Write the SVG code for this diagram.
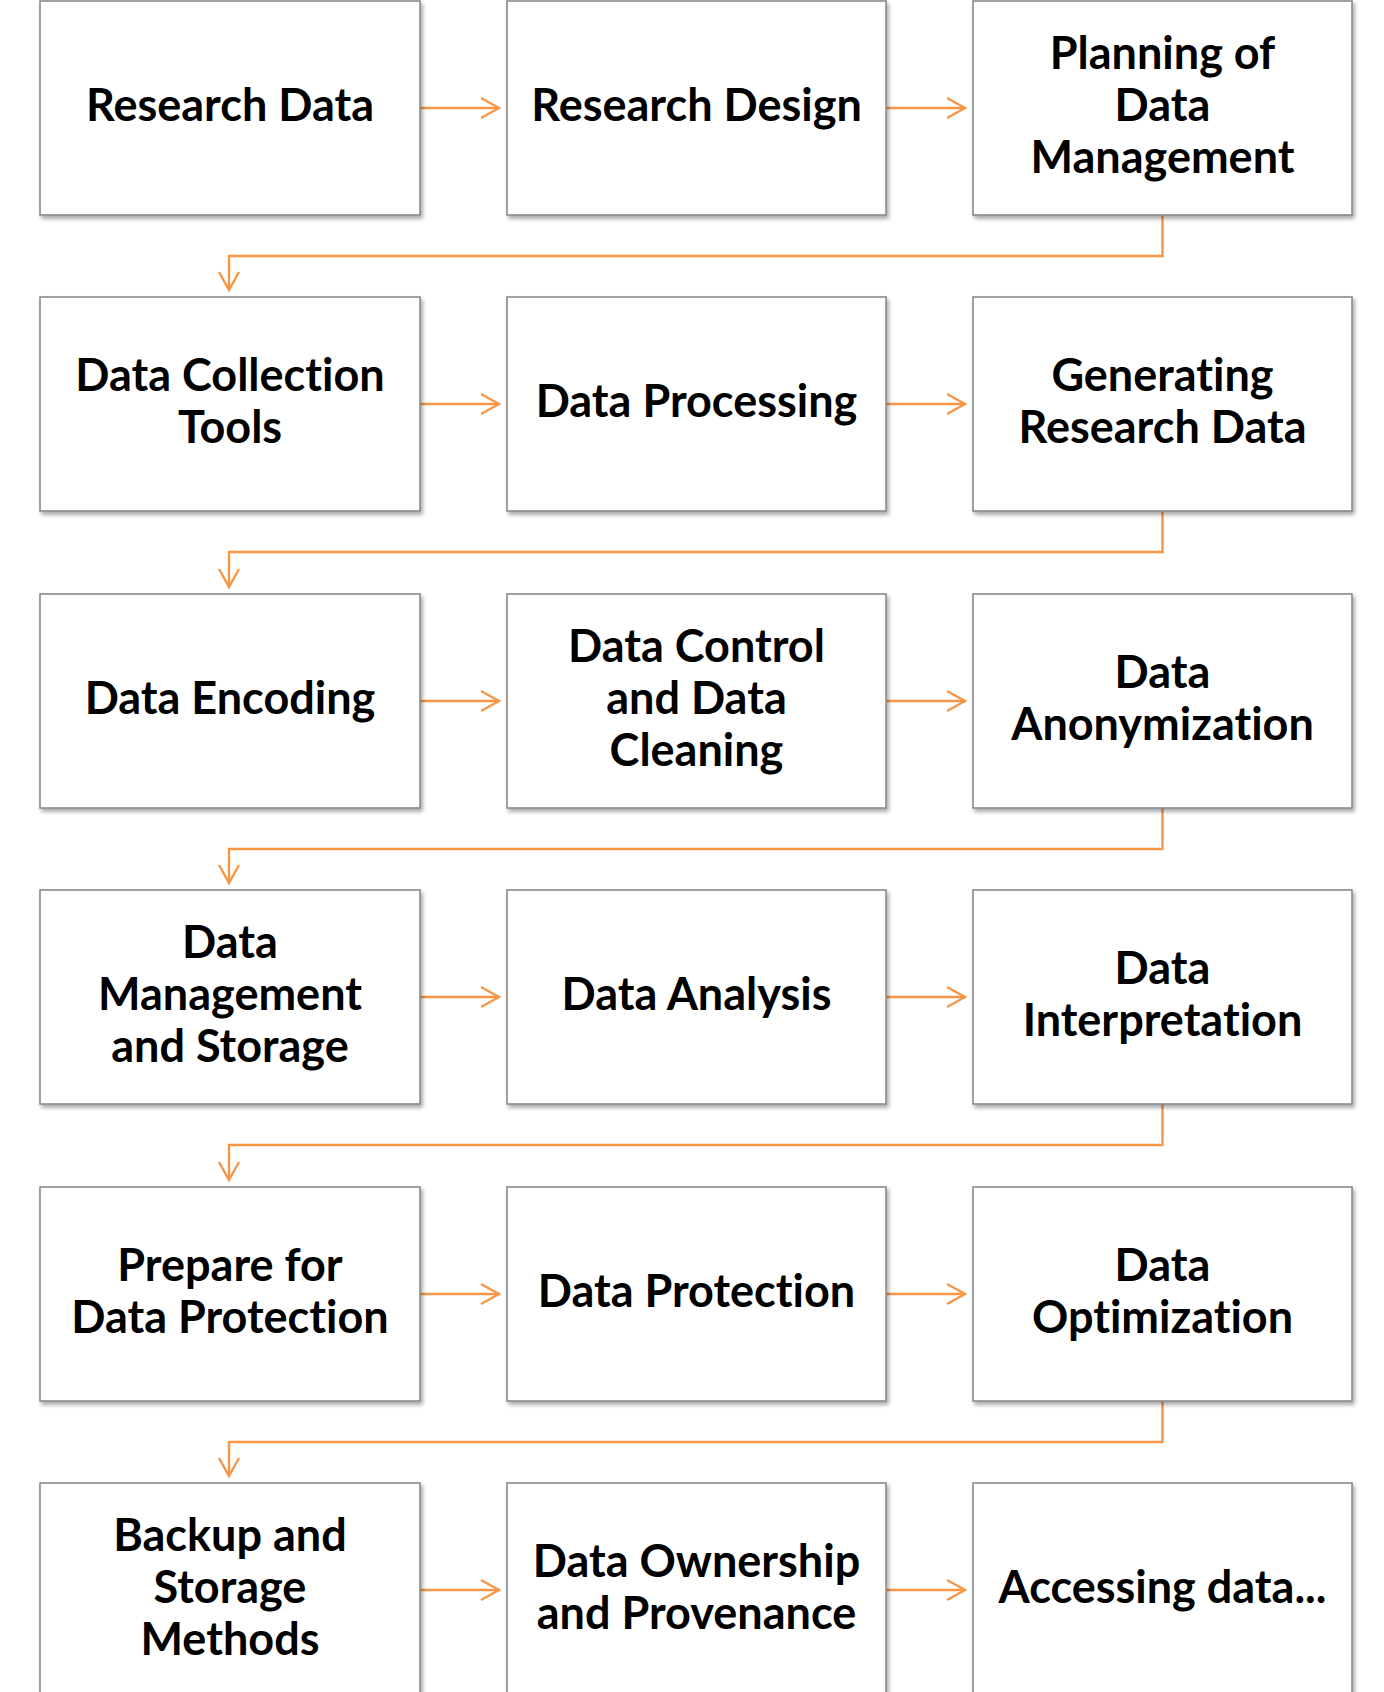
<svg xmlns="http://www.w3.org/2000/svg" width="1384" height="1692" viewBox="0 0 1384 1692">
<style>
.box{fill:#ffffff;stroke:#8a8a8a;stroke-width:1.6;filter:url(#sh)}
.lbl{font-family:Lato,"Liberation Sans",sans-serif;font-weight:700;font-size:45px;fill:#000;text-anchor:middle;font-variant-ligatures:none}
.con{fill:none;stroke:#F79646;stroke-width:2.4;marker-end:url(#ah)}
</style>
<defs>
<filter id="sh" x="-5%" y="-5%" width="112%" height="115%">
<feGaussianBlur in="SourceAlpha" stdDeviation="2.2"/>
<feOffset dx="2" dy="3" result="b"/>
<feComponentTransfer><feFuncA type="linear" slope="0.35"/></feComponentTransfer>
<feMerge><feMergeNode/><feMergeNode in="SourceGraphic"/></feMerge>
</filter>
<marker id="ah" markerUnits="userSpaceOnUse" markerWidth="40" markerHeight="40" refX="0" refY="0" orient="auto" viewBox="-20 -20 40 40" overflow="visible">
<path d="M-18,-10 L0,0 L-18,10" fill="none" stroke="#F79646" stroke-width="2.4"/>
</marker>
</defs>

<g id="connectors">
<path class="con" d="M420,108 H499"/>
<path class="con" d="M886,108 H965"/>
<path class="con" d="M1162.5,215 V256 H229 V290"/>
<path class="con" d="M420,404 H499"/>
<path class="con" d="M886,404 H965"/>
<path class="con" d="M1162.5,511 V552 H229 V587"/>
<path class="con" d="M420,701 H499"/>
<path class="con" d="M886,701 H965"/>
<path class="con" d="M1162.5,808 V849 H229 V883"/>
<path class="con" d="M420,997 H499"/>
<path class="con" d="M886,997 H965"/>
<path class="con" d="M1162.5,1104 V1145 H229 V1180"/>
<path class="con" d="M420,1294 H499"/>
<path class="con" d="M886,1294 H965"/>
<path class="con" d="M1162.5,1401 V1442 H229 V1476"/>
<path class="con" d="M420,1590 H499"/>
<path class="con" d="M886,1590 H965"/>
</g>

<g id="n1"><rect class="box" x="40" y="1" width="380" height="214"/><text class="lbl" x="230" y="121">Research Data</text></g>
<g id="n2"><rect class="box" x="507" y="1" width="379" height="214"/><text class="lbl" x="696.5" y="121">Research Design</text></g>
<g id="n3"><rect class="box" x="973" y="1" width="379" height="214"/><text class="lbl" x="1162.5" y="69">Planning of</text><text class="lbl" x="1162.5" y="121">Data</text><text class="lbl" x="1162.5" y="173">Management</text></g>

<g id="n4"><rect class="box" x="40" y="297" width="380" height="214"/><text class="lbl" x="230" y="391">Data Collection</text><text class="lbl" x="230" y="443">Tools</text></g>
<g id="n5"><rect class="box" x="507" y="297" width="379" height="214"/><text class="lbl" x="696.5" y="417">Data Processing</text></g>
<g id="n6"><rect class="box" x="973" y="297" width="379" height="214"/><text class="lbl" x="1162.5" y="391">Generating</text><text class="lbl" x="1162.5" y="443">Research Data</text></g>

<g id="n7"><rect class="box" x="40" y="594" width="380" height="214"/><text class="lbl" x="230" y="714">Data Encoding</text></g>
<g id="n8"><rect class="box" x="507" y="594" width="379" height="214"/><text class="lbl" x="696.5" y="662">Data Control</text><text class="lbl" x="696.5" y="714">and Data</text><text class="lbl" x="696.5" y="766">Cleaning</text></g>
<g id="n9"><rect class="box" x="973" y="594" width="379" height="214"/><text class="lbl" x="1162.5" y="688">Data</text><text class="lbl" x="1162.5" y="740">Anonymization</text></g>

<g id="n10"><rect class="box" x="40" y="890" width="380" height="214"/><text class="lbl" x="230" y="958">Data</text><text class="lbl" x="230" y="1010">Management</text><text class="lbl" x="230" y="1062">and Storage</text></g>
<g id="n11"><rect class="box" x="507" y="890" width="379" height="214"/><text class="lbl" x="696.5" y="1010">Data Analysis</text></g>
<g id="n12"><rect class="box" x="973" y="890" width="379" height="214"/><text class="lbl" x="1162.5" y="984">Data</text><text class="lbl" x="1162.5" y="1036">Interpretation</text></g>

<g id="n13"><rect class="box" x="40" y="1187" width="380" height="214"/><text class="lbl" x="230" y="1281">Prepare for</text><text class="lbl" x="230" y="1333">Data Protection</text></g>
<g id="n14"><rect class="box" x="507" y="1187" width="379" height="214"/><text class="lbl" x="696.5" y="1307">Data Protection</text></g>
<g id="n15"><rect class="box" x="973" y="1187" width="379" height="214"/><text class="lbl" x="1162.5" y="1281">Data</text><text class="lbl" x="1162.5" y="1333">Optimization</text></g>

<g id="n16"><rect class="box" x="40" y="1483" width="380" height="214"/><text class="lbl" x="230" y="1551">Backup and</text><text class="lbl" x="230" y="1603">Storage</text><text class="lbl" x="230" y="1655">Methods</text></g>
<g id="n17"><rect class="box" x="507" y="1483" width="379" height="214"/><text class="lbl" x="696.5" y="1577">Data Ownership</text><text class="lbl" x="696.5" y="1629">and Provenance</text></g>
<g id="n18"><rect class="box" x="973" y="1483" width="379" height="214"/><text class="lbl" x="1162.5" y="1603">Accessing data...</text></g>
</svg>
